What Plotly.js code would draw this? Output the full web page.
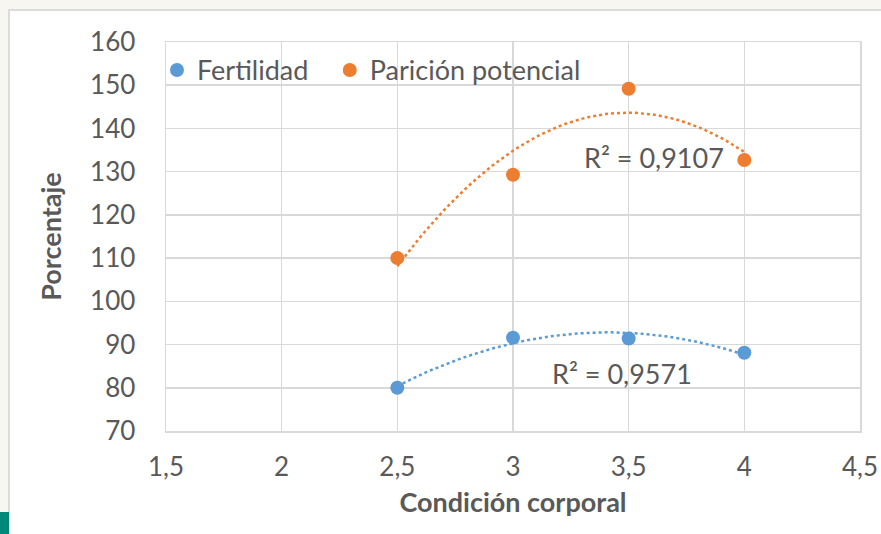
<!DOCTYPE html>
<html>
<head>
<meta charset="utf-8">
<script src="https://cdn.plot.ly/plotly-3.0.1.min.js"></script>
<style>
  html, body { margin:0; padding:0; width:881px; height:534px; overflow:hidden; background:#f8f6f1; }
  #panel { position:absolute; left:8px; top:9px; width:873px; height:525px; background:#ffffff; border-top:2px solid #dcdcdc; border-left:2px solid #dcdcdc; }
  #teal { position:absolute; left:0; top:512px; width:9px; height:22px; background:#00897b; }
  #chart { position:absolute; left:0; top:0; width:881px; height:534px; }
</style>
</head>
<body>
<div id="panel"></div>
<div id="teal"></div>
<div id="chart"></div>
<script>
const condicion = [2.5, 3, 3.5, 4];
const fertilidad = [80, 91.6, 91.4, 88.1];
const paricion = [110, 129.3, 149.2, 132.7];
const seriesNames = ["Fertilidad", "Parición potencial"];
const r2Labels = ["R² = 0,9571", "R² = 0,9107"];
const xTicks = [1.5, 2, 2.5, 3, 3.5, 4, 4.5];
const yTicks = [70, 80, 90, 100, 110, 120, 130, 140, 150, 160];

const blue = "#5b9bd5", orange = "#ed7d31", txt = "#595959", grid = "#d9d9d9";
const FONT = "Lato, 'Open Sans', sans-serif";

// quadratic least-squares trendline (like Excel polynomial order 2)
function polyfit2(x, y) {
  let n = x.length, s = [0,0,0,0,0], t = [0,0,0];
  for (let i = 0; i < n; i++) {
    let p = 1;
    for (let k = 0; k < 5; k++) { s[k] += p; if (k < 3) t[k] += p * y[i]; p *= x[i]; }
  }
  const A = [[s[0],s[1],s[2],t[0]],[s[1],s[2],s[3],t[1]],[s[2],s[3],s[4],t[2]]];
  for (let i = 0; i < 3; i++) {
    for (let j = i+1; j < 3; j++) {
      const f = A[j][i] / A[i][i];
      for (let k = i; k < 4; k++) A[j][k] -= f * A[i][k];
    }
  }
  const c = [0,0,0];
  for (let i = 2; i >= 0; i--) {
    let v = A[i][3];
    for (let k = i+1; k < 3; k++) v -= A[i][k] * c[k];
    c[i] = v / A[i][i];
  }
  return c;
}
function trend(x, y) {
  const c = polyfit2(x, y);
  const xs = [], ys = [];
  const x0 = Math.min(...x), x1 = Math.max(...x);
  for (let i = 0; i <= 60; i++) {
    const xv = x0 + (x1 - x0) * i / 60;
    xs.push(xv); ys.push(c[0] + c[1]*xv + c[2]*xv*xv);
  }
  return {xs, ys};
}
const tf = trend(condicion, fertilidad);
const tp = trend(condicion, paricion);

const traces = [
  {x: tf.xs, y: tf.ys, mode: "lines", line: {color: blue, width: 2.5, dash: "dot"}, showlegend: false, hoverinfo: "skip"},
  {x: tp.xs, y: tp.ys, mode: "lines", line: {color: orange, width: 2.5, dash: "dot"}, showlegend: false, hoverinfo: "skip"},
  {x: condicion, y: fertilidad, name: seriesNames[0], mode: "markers", marker: {color: blue, size: 14}, legend: "legend"},
  {x: condicion, y: paricion, name: seriesNames[1], mode: "markers", marker: {color: orange, size: 14}, legend: "legend2"}
];

const legendBase = {orientation: "h", y: 0.99, xanchor: "left", yanchor: "top",
  bgcolor: "rgba(0,0,0,0)", font: {size: 27, color: txt}, itemwidth: 30};

const layout = {
  width: 881, height: 534,
  paper_bgcolor: "rgba(0,0,0,0)", plot_bgcolor: "rgba(0,0,0,0)",
  margin: {l: 166, r: 21, t: 42, b: 103},
  separators: ",.",
  font: {family: FONT, color: txt, size: 26},
  showlegend: true,
  legend: Object.assign({}, legendBase, {x: -0.013}),
  legend2: Object.assign({}, legendBase, {x: 0.236}),
  xaxis: {
    range: [1.5, 4.5], tickvals: xTicks, ticks: "", showgrid: true, gridcolor: grid, gridwidth: 1.5,
    zeroline: false, showline: true, linecolor: grid, linewidth: 1.5, mirror: true,
    ticklabelstandoff: 12, tickfont: {size: 26, color: txt},
    title: {text: "Condición corporal", font: {size: 27, color: txt, weight: "bold"}, standoff: 12}
  },
  yaxis: {
    range: [70, 160], tickvals: yTicks, ticks: "", showgrid: true, gridcolor: grid, gridwidth: 1.5,
    zeroline: false, showline: true, linecolor: grid, linewidth: 1.5, mirror: true,
    ticklabelstandoff: 24, tickfont: {size: 26, color: txt},
    title: {text: "Porcentaje", font: {size: 27, color: txt, weight: "bold"}, standoff: 20}
  },
  annotations: [
    {x: 3.47, y: 83.2, xref: "x", yref: "y", text: r2Labels[0], showarrow: false, font: {size: 27, color: txt}},
    {x: 3.61, y: 133.2, xref: "x", yref: "y", text: r2Labels[1], showarrow: false, font: {size: 27, color: txt}}
  ]
};

Plotly.newPlot("chart", traces, layout, {displayModeBar: false, staticPlot: true});
</script>
</body>
</html>
